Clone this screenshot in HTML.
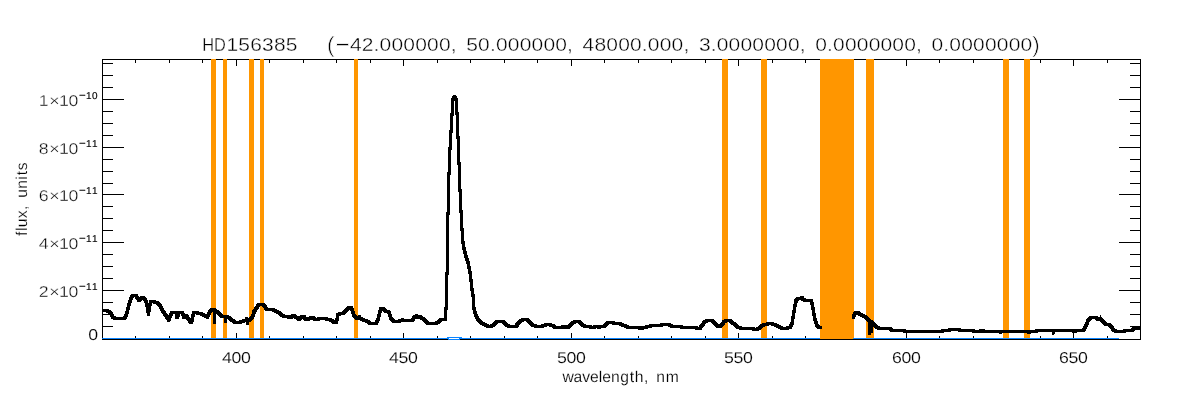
<!DOCTYPE html>
<html lang="en"><head><meta charset="utf-8"><title>HD156385</title>
<style>
html,body{margin:0;padding:0;background:#fff;overflow:hidden}
body{width:1200px;height:400px}
svg{display:block;position:absolute;left:0;top:0}
text{white-space:pre}
</style></head><body>
<svg width="1200" height="400" viewBox="0 0 1200 400">
<rect width="1200" height="400" fill="#fff"/>
<g shape-rendering="crispEdges" fill="#000"><rect x="102" y="59" width="1039" height="1"/><rect x="102" y="339" width="1039" height="1"/><rect x="102" y="59" width="1" height="281"/><rect x="1140" y="59" width="1" height="281"/><rect x="135" y="60" width="1" height="3"/><rect x="135" y="336" width="1" height="3"/><rect x="169" y="60" width="1" height="3"/><rect x="169" y="336" width="1" height="3"/><rect x="202" y="60" width="1" height="3"/><rect x="202" y="336" width="1" height="3"/><rect x="236" y="60" width="1" height="6"/><rect x="236" y="333" width="1" height="6"/><rect x="269" y="60" width="1" height="3"/><rect x="269" y="336" width="1" height="3"/><rect x="303" y="60" width="1" height="3"/><rect x="303" y="336" width="1" height="3"/><rect x="336" y="60" width="1" height="3"/><rect x="336" y="336" width="1" height="3"/><rect x="370" y="60" width="1" height="3"/><rect x="370" y="336" width="1" height="3"/><rect x="403" y="60" width="1" height="6"/><rect x="403" y="333" width="1" height="6"/><rect x="437" y="60" width="1" height="3"/><rect x="437" y="336" width="1" height="3"/><rect x="470" y="60" width="1" height="3"/><rect x="470" y="336" width="1" height="3"/><rect x="504" y="60" width="1" height="3"/><rect x="504" y="336" width="1" height="3"/><rect x="537" y="60" width="1" height="3"/><rect x="537" y="336" width="1" height="3"/><rect x="571" y="60" width="1" height="6"/><rect x="571" y="333" width="1" height="6"/><rect x="604" y="60" width="1" height="3"/><rect x="604" y="336" width="1" height="3"/><rect x="638" y="60" width="1" height="3"/><rect x="638" y="336" width="1" height="3"/><rect x="671" y="60" width="1" height="3"/><rect x="671" y="336" width="1" height="3"/><rect x="705" y="60" width="1" height="3"/><rect x="705" y="336" width="1" height="3"/><rect x="738" y="60" width="1" height="6"/><rect x="738" y="333" width="1" height="6"/><rect x="772" y="60" width="1" height="3"/><rect x="772" y="336" width="1" height="3"/><rect x="805" y="60" width="1" height="3"/><rect x="805" y="336" width="1" height="3"/><rect x="839" y="60" width="1" height="3"/><rect x="839" y="336" width="1" height="3"/><rect x="872" y="60" width="1" height="3"/><rect x="872" y="336" width="1" height="3"/><rect x="906" y="60" width="1" height="6"/><rect x="906" y="333" width="1" height="6"/><rect x="939" y="60" width="1" height="3"/><rect x="939" y="336" width="1" height="3"/><rect x="973" y="60" width="1" height="3"/><rect x="973" y="336" width="1" height="3"/><rect x="1006" y="60" width="1" height="3"/><rect x="1006" y="336" width="1" height="3"/><rect x="1040" y="60" width="1" height="3"/><rect x="1040" y="336" width="1" height="3"/><rect x="1073" y="60" width="1" height="6"/><rect x="1073" y="333" width="1" height="6"/><rect x="1107" y="60" width="1" height="3"/><rect x="1107" y="336" width="1" height="3"/><rect x="103" y="326" width="10" height="1"/><rect x="1130" y="326" width="10" height="1"/><rect x="103" y="314" width="10" height="1"/><rect x="1130" y="314" width="10" height="1"/><rect x="103" y="302" width="10" height="1"/><rect x="1130" y="302" width="10" height="1"/><rect x="103" y="290" width="21" height="1"/><rect x="1119" y="290" width="21" height="1"/><rect x="103" y="278" width="10" height="1"/><rect x="1130" y="278" width="10" height="1"/><rect x="103" y="266" width="10" height="1"/><rect x="1130" y="266" width="10" height="1"/><rect x="103" y="254" width="10" height="1"/><rect x="1130" y="254" width="10" height="1"/><rect x="103" y="242" width="21" height="1"/><rect x="1119" y="242" width="21" height="1"/><rect x="103" y="230" width="10" height="1"/><rect x="1130" y="230" width="10" height="1"/><rect x="103" y="218" width="10" height="1"/><rect x="1130" y="218" width="10" height="1"/><rect x="103" y="206" width="10" height="1"/><rect x="1130" y="206" width="10" height="1"/><rect x="103" y="194" width="21" height="1"/><rect x="1119" y="194" width="21" height="1"/><rect x="103" y="183" width="10" height="1"/><rect x="1130" y="183" width="10" height="1"/><rect x="103" y="171" width="10" height="1"/><rect x="1130" y="171" width="10" height="1"/><rect x="103" y="159" width="10" height="1"/><rect x="1130" y="159" width="10" height="1"/><rect x="103" y="147" width="21" height="1"/><rect x="1119" y="147" width="21" height="1"/><rect x="103" y="135" width="10" height="1"/><rect x="1130" y="135" width="10" height="1"/><rect x="103" y="123" width="10" height="1"/><rect x="1130" y="123" width="10" height="1"/><rect x="103" y="111" width="10" height="1"/><rect x="1130" y="111" width="10" height="1"/><rect x="103" y="99" width="21" height="1"/><rect x="1119" y="99" width="21" height="1"/><rect x="103" y="87" width="10" height="1"/><rect x="1130" y="87" width="10" height="1"/><rect x="103" y="75" width="10" height="1"/><rect x="1130" y="75" width="10" height="1"/><rect x="103" y="63" width="10" height="1"/><rect x="1130" y="63" width="10" height="1"/></g>
<g shape-rendering="crispEdges" fill="#ff9600"><rect x="211" y="59" width="5" height="279"/><rect x="223" y="59" width="4" height="279"/><rect x="249" y="59" width="5" height="279"/><rect x="260" y="59" width="4" height="279"/><rect x="354" y="59" width="4" height="279"/><rect x="722" y="59" width="6" height="279"/><rect x="761" y="59" width="6" height="279"/><rect x="820" y="59" width="34" height="280"/><rect x="866" y="59" width="8" height="279"/><rect x="1003" y="59" width="6" height="279"/><rect x="1024" y="59" width="6" height="279"/></g>
<g shape-rendering="crispEdges" fill="#0a84ff">
<rect x="102" y="338" width="718" height="1"/>
<rect x="853" y="338" width="266" height="1"/>
<rect x="447" y="337" width="15" height="1"/><rect x="448" y="339" width="12" height="1"/>
</g>
<rect x="449" y="338" width="10" height="1" fill="#fff" shape-rendering="crispEdges"/>
<clipPath id="pc"><rect x="103" y="60" width="1037" height="279"/></clipPath>
<g shape-rendering="crispEdges" clip-path="url(#pc)">
<path d="M100.5,309.1 107.5,309.1 107.5,312.1 100.5,312.1zM104.5,309.1 107.5,309.1 109.5,309.9 109.5,312.9 106.5,312.9 104.5,312.1zM106.5,309.9 109.5,309.9 111.5,311 111.5,314 108.5,314 106.5,312.9zM108.5,311 111.5,311 113,313 113,316 110,316 108.5,314zM110,313 113,313 114.5,315.5 114.5,318.5 111.5,318.5 110,316zM111.5,315.5 114.5,315.5 116,317 116,320 113,320 111.5,318.5zM113,317 125,317 125,320 113,320zM122,317 123.7,315.5 126.7,315.5 126.7,318.5 125,320 122,320zM123.7,315.5 124.7,313.5 127.7,313.5 127.7,316.5 126.7,318.5 123.7,318.5zM124.7,313.5 125.7,310 128.7,310 128.7,313 127.7,316.5 124.7,316.5zM125.7,310 126.7,306.5 129.7,306.5 129.7,309.5 128.7,313 125.7,313zM126.7,306.5 127.7,302.5 130.7,302.5 130.7,305.5 129.7,309.5 126.7,309.5zM127.7,302.5 128.7,299 131.7,299 131.7,302 130.7,305.5 127.7,305.5zM128.7,299 129.8,296 132.8,296 132.8,299 131.7,302 128.7,302zM129.8,296 131.5,294.1 134.5,294.1 134.5,297.1 132.8,299 129.8,299zM131.5,294.1 137.5,294.1 137.5,297.1 131.5,297.1zM134.5,294.1 137.5,294.1 139,296.3 139,299.3 136,299.3 134.5,297.1zM136,296.3 139,296.3 140.5,298.9 140.5,301.9 137.5,301.9 136,299.3zM137.5,298.9 139,297.3 142,297.3 142,300.3 140.5,301.9 137.5,301.9zM139,297.3 140.5,296.1 143.5,296.1 143.5,299.1 142,300.3 139,300.3zM140.5,296.1 145,296.1 145,299.1 140.5,299.1zM142,296.1 145,296.1 146.7,298 146.7,301 143.7,301 142,299.1zM143.7,298 146.7,298 148,300.5 148,303.5 145,303.5 143.7,301zM145,300.5 148,300.5 148.8,305.5 148.8,308.5 145.8,308.5 145,303.5zM145.8,305.5 148.8,305.5 150,312.9 150,315.9 147,315.9 145.8,308.5zM147,312.9 148,305.5 151,305.5 151,308.5 150,315.9 147,315.9zM148,305.5 149,300.5 152,300.5 152,303.5 151,308.5 148,308.5zM149,300.5 150.5,300.1 153.5,300.1 153.5,303.1 152,303.5 149,303.5zM150.5,300.1 153.5,300.1 156.5,300.5 156.5,303.5 153.5,303.5 150.5,303.1zM153.5,300.5 156.5,300.5 158.5,301.3 158.5,304.3 155.5,304.3 153.5,303.5zM155.5,301.3 158.5,301.3 160,302.1 160,305.1 157,305.1 155.5,304.3zM157,302.1 160,302.1 161.5,304 161.5,307 158.5,307 157,305.1zM158.5,304 161.5,304 163,307 163,310 160,310 158.5,307zM160,307 163,307 166,312 166,315 163,315 160,310zM163,312 166,312 170.3,318.7 170.3,321.7 167.3,321.7 163,315zM167.3,318.7 169,313.5 172,313.5 172,316.5 170.3,321.7 167.3,321.7zM169,313.5 170.5,311 173.5,311 173.5,314 172,316.5 169,316.5zM170.5,311 177.5,311 177.5,314 170.5,314zM174.5,311 177.5,311 178.5,315.8 178.5,318.8 175.5,318.8 174.5,314zM175.5,315.8 177.5,311.3 180.5,311.3 180.5,314.3 178.5,318.8 175.5,318.8zM177.5,311.3 184,311.3 184,314.3 177.5,314.3zM181,311.3 184,311.3 185.5,316 185.5,319 182.5,319 181,314.3zM182.5,316 184.5,313.5 187.5,313.5 187.5,316.5 185.5,319 182.5,319zM184.5,313.5 187.5,313.5 189.5,316.5 189.5,319.5 186.5,319.5 184.5,316.5zM186.5,316.5 189.5,316.5 192,321.1 192,324.1 189,324.1 186.5,319.5zM189,321.1 193,321.1 193,324.1 189,324.1zM190,321.1 192,311.5 195,311.5 195,314.5 193,324.1 190,324.1zM192,311.5 195.5,311.3 198.5,311.3 198.5,314.3 195,314.5 192,314.5zM195.5,311.3 198.5,311.3 201.5,312 201.5,315 198.5,315 195.5,314.3zM198.5,312 201.5,312 205.5,313.5 205.5,316.5 202.5,316.5 198.5,315zM202.5,313.5 205.5,313.5 209,315.5 209,318.5 206,318.5 202.5,316.5zM206,315.5 207,313 210,313 210,316 209,318.5 206,318.5zM207,313 208,310.5 211,310.5 211,313.5 210,316 207,316zM208,310.5 209.5,308.7 212.5,308.7 212.5,311.7 211,313.5 208,313.5zM209.5,308.7 211,308.2 214,308.2 214,311.2 212.5,311.7 209.5,311.7zM211,308.2 214,308.2 216,308.4 216,311.4 213,311.4 211,311.2zM213,308.4 216,308.4 216,324 213,324zM213,308.5 216,308.5 216,324 213,324zM213,308.5 216,308.5 217.5,309.7 217.5,312.7 214.5,312.7 213,311.5zM214.5,309.7 217.5,309.7 220.5,312 220.5,315 217.5,315 214.5,312.7zM217.5,312 220.5,312 223.5,314.5 223.5,317.5 220.5,317.5 217.5,315zM220.5,314.5 223.5,314.5 227,314.7 227,317.7 224,317.7 220.5,317.5zM224,314.7 227,314.7 227,322.5 224,322.5zM224,314.7 227,314.7 227,322.5 224,322.5zM224,314.7 227,314.7 228,314.9 228,317.9 225,317.9 224,317.7zM225,314.9 228,314.9 230.5,316 230.5,319 227.5,319 225,317.9zM227.5,316 230.5,316 233.5,318.5 233.5,321.5 230.5,321.5 227.5,319zM230.5,318.5 233.5,318.5 236,320.9 236,323.9 233,323.9 230.5,321.5zM233,320.9 236,320.9 241,321.1 241,324.1 238,324.1 233,323.9zM238,321.1 240,320 243,320 243,323 241,324.1 238,324.1zM240,320 242.5,319.3 245.5,319.3 245.5,322.3 243,323 240,323zM242.5,319.3 244.5,319 247.5,319 247.5,322 245.5,322.3 242.5,322.3zM244.5,319 245,317.1 248,317.1 248,320.1 247.5,322 244.5,322zM245,317.1 248,317.1 248.5,319 248.5,322 245.5,322 245,320.1zM245.5,319 248.5,319 249,321.7 249,324.7 246,324.7 245.5,322zM246,321.7 246.5,319 249.5,319 249.5,322 249,324.7 246,324.7zM246.5,319 248.5,318 251.5,318 251.5,321 249.5,322 246.5,322zM248.5,318 251,315.5 254,315.5 254,318.5 251.5,321 248.5,321zM251,315.5 252.5,310.5 255.5,310.5 255.5,313.5 254,318.5 251,318.5zM252.5,310.5 254.5,307 257.5,307 257.5,310 255.5,313.5 252.5,313.5zM254.5,307 257,303.4 260,303.4 260,306.4 257.5,310 254.5,310zM257,303.4 258.5,303 261.5,303 261.5,306 260,306.4 257,306.4zM258.5,303 261.5,303 264.5,303.1 264.5,306.1 261.5,306.1 258.5,306zM261.5,303.1 264.5,303.1 267,306 267,309 264,309 261.5,306.1zM264,306 267,306 268.5,308.3 268.5,311.3 265.5,311.3 264,309zM265.5,308.3 271.5,308.3 271.5,311.3 265.5,311.3zM268.5,308.3 271.5,308.2 274.5,308.2 274.5,311.2 271.5,311.3 268.5,311.3zM271.5,308.2 274.5,308.2 277.5,309.5 277.5,312.5 274.5,312.5 271.5,311.2zM274.5,309.5 277.5,309.5 280.5,311.5 280.5,314.5 277.5,314.5 274.5,312.5zM277.5,311.5 280.5,311.5 283.5,314 283.5,317 280.5,317 277.5,314.5zM280.5,314 283.5,314 285.5,315 285.5,318 282.5,318 280.5,317zM282.5,315 289.5,315 289.5,318 282.5,318zM286.5,315 289.5,315 290.5,315.9 290.5,318.9 287.5,318.9 286.5,318zM287.5,315.9 293,315.9 293,318.9 287.5,318.9zM290,315.9 291,314 294,314 294,317 293,318.9 290,318.9zM291,314 296,314 296,317 291,317zM293,314 296,314 297.5,316 297.5,319 294.5,319 293,317zM294.5,316 297.5,316 299.5,317 299.5,320 296.5,320 294.5,319zM296.5,317 299.5,317 301,317.9 301,320.9 298,320.9 296.5,320zM298,317.9 299.5,315.9 302.5,315.9 302.5,318.9 301,320.9 298,320.9zM299.5,315.9 301,315 304,315 304,318 302.5,318.9 299.5,318.9zM301,315 304,315 305.5,315.5 305.5,318.5 302.5,318.5 301,318zM302.5,315.5 305.5,315.5 307,317.9 307,320.9 304,320.9 302.5,318.5zM304,317.9 309.5,317.9 309.5,320.9 304,320.9zM306.5,317.9 308,317 311,317 311,320 309.5,320.9 306.5,320.9zM308,317 309,316 312,316 312,319 311,320 308,320zM309,316 314,316 314,319 309,319zM311,316 314,316 315.5,317 315.5,320 312.5,320 311,319zM312.5,317 315.5,317 316.5,317.9 316.5,320.9 313.5,320.9 312.5,320zM313.5,317.9 315,317.7 318,317.7 318,320.7 316.5,320.9 313.5,320.9zM315,317.7 318.5,317.3 321.5,317.3 321.5,320.3 318,320.7 315,320.7zM318.5,317.3 326.5,317.3 326.5,320.3 318.5,320.3zM323.5,317.3 326.5,317.3 331.5,318.3 331.5,321.3 328.5,321.3 323.5,320.3zM328.5,318.3 331.5,318.3 334,319.5 334,322.5 331,322.5 328.5,321.3zM331,319.5 334,319.5 335.5,321 335.5,324 332.5,324 331,322.5zM332.5,321 337.5,321 337.5,324 332.5,324zM334.5,321 335.5,317.5 338.5,317.5 338.5,320.5 337.5,324 334.5,324zM335.5,317.5 336.2,313.5 339.2,313.5 339.2,316.5 338.5,320.5 335.5,320.5zM336.2,313.5 338.5,312 341.5,312 341.5,315 339.2,316.5 336.2,316.5zM338.5,312 342,311.5 345,311.5 345,314.5 341.5,315 338.5,315zM342,311.5 345.3,308.5 348.3,308.5 348.3,311.5 345,314.5 342,314.5zM345.3,308.5 347.3,306.1 350.3,306.1 350.3,309.1 348.3,311.5 345.3,311.5zM347.3,306.1 350.3,306.1 352.5,306.3 352.5,309.3 349.5,309.3 347.3,309.1zM349.5,306.3 352.5,306.3 354.5,310.5 354.5,313.5 351.5,313.5 349.5,309.3zM351.5,310.5 354.5,310.5 356,315 356,318 353,318 351.5,313.5zM353,315 356,315 358.5,316.5 358.5,319.5 355.5,319.5 353,318zM355.5,316.5 358.5,316.5 360.1,316.8 360.1,319.8 357.1,319.8 355.5,319.5zM357.1,316.8 357.8,315.1 360.8,315.1 360.8,318.1 360.1,319.8 357.1,319.8zM357.8,315.1 360.8,315.1 361.5,316.9 361.5,319.9 358.5,319.9 357.8,318.1zM358.5,316.9 361.5,316.9 365.5,318.5 365.5,321.5 362.5,321.5 358.5,319.9zM362.5,318.5 365.5,318.5 369,320 369,323 366,323 362.5,321.5zM366,320 369,320 372,321.8 372,324.8 369,324.8 366,323zM369,321.8 377.5,321.8 377.5,324.8 369,324.8zM374.5,321.8 376.2,319.5 379.2,319.5 379.2,322.5 377.5,324.8 374.5,324.8zM376.2,319.5 377.2,315.5 380.2,315.5 380.2,318.5 379.2,322.5 376.2,322.5zM377.2,315.5 378.2,310.5 381.2,310.5 381.2,313.5 380.2,318.5 377.2,318.5zM378.2,310.5 379.5,307 382.5,307 382.5,310 381.2,313.5 378.2,313.5zM379.5,307 385,307 385,310 379.5,310zM382,307 385,307 386.5,309 386.5,312 383.5,312 382,310zM383.5,309 386.5,309 387.5,310 387.5,313 384.5,313 383.5,312zM384.5,310 387.5,310 390,310.1 390,313.1 387,313.1 384.5,313zM387,310.1 390,310.1 391,312.5 391,315.5 388,315.5 387,313.1zM388,312.5 391,312.5 392.2,316.5 392.2,319.5 389.2,319.5 388,315.5zM389.2,316.5 392.2,316.5 394,319 394,322 391,322 389.2,319.5zM391,319 394,319 396,319.7 396,322.7 393,322.7 391,322zM393,319.7 396,319.7 400,319.9 400,322.9 397,322.9 393,322.7zM397,319.9 399,318.9 402,318.9 402,321.9 400,322.9 397,322.9zM399,318.9 401,318.4 404,318.4 404,321.4 402,321.9 399,321.9zM401,318.4 404,318.4 406.5,319 406.5,322 403.5,322 401,321.4zM403.5,319 413,319 413,322 403.5,322zM410,319 412,317 415,317 415,320 413,322 410,322zM412,317 414,314.8 417,314.8 417,317.8 415,320 412,320zM414,314.8 415,314.3 418,314.3 418,317.3 417,317.8 414,317.8zM415,314.3 418,314.3 418.8,316 418.8,319 415.8,319 415,317.3zM415.8,316 417,315 420,315 420,318 418.8,319 415.8,319zM417,315 420,315 421.5,315.5 421.5,318.5 418.5,318.5 417,318zM418.5,315.5 421.5,315.5 424.5,317.5 424.5,320.5 421.5,320.5 418.5,318.5zM421.5,317.5 424.5,317.5 427.5,320.5 427.5,323.5 424.5,323.5 421.5,320.5zM424.5,320.5 427.5,320.5 429.5,321.7 429.5,324.7 426.5,324.7 424.5,323.5zM426.5,321.7 437.5,321.7 437.5,324.7 426.5,324.7zM434.5,321.7 437,320.3 440,320.3 440,323.3 437.5,324.7 434.5,324.7zM437,320.3 439,318.5 442,318.5 442,321.5 440,323.3 437,323.3zM439,318.5 442.5,318.3 445.5,318.3 445.5,321.3 442,321.5 439,321.5zM442.5,318.3 447,318.3 447,321.3 442.5,321.3zM444,307 447,307 447,321.3 444,321.3zM444,307 445,306 448,306 448,309 447,310 444,310zM445,272 448,272 448,309 445,309zM445,272 446,271 449,271 449,274 448,275 445,275zM446,212.5 449,212.5 449,274 446,274zM446,212.5 447,211.5 450,211.5 450,214.5 449,215.5 446,215.5zM447,172.5 450,172.5 450,214.5 447,214.5zM447,172.5 448,171.5 451,171.5 451,174.5 450,175.5 447,175.5zM448,147.5 451,147.5 451,174.5 448,174.5zM448,147.5 449,146.5 452,146.5 452,149.5 451,150.5 448,150.5zM449,130 452,130 452,149.5 449,149.5zM449,130 450,129 453,129 453,132 452,133 449,133zM450,113 453,113 453,132 450,132zM450,113 451,112 454,112 454,115 453,116 450,116zM451,99.5 454,99.5 454,115 451,115zM451,99.5 453,95 456,95 456,98 454,102.5 451,102.5zM453,95 456,95 458,99.5 458,102.5 455,102.5 453,98zM455,99.5 458,99.5 458,115 455,115zM455,112 458,112 459,113 459,116 456,116 455,115zM456,113 459,113 459,138.5 456,138.5zM456,135.5 459,135.5 460,136.5 460,139.5 457,139.5 456,138.5zM457,136.5 460,136.5 460,165 457,165zM457,162 460,162 461,163 461,166 458,166 457,165zM458,163 461,163 461,191.5 458,191.5zM458,188.5 461,188.5 462,189.5 462,192.5 459,192.5 458,191.5zM459,189.5 462,189.5 462,212.5 459,212.5zM459,209.5 462,209.5 463,210.5 463,213.5 460,213.5 459,212.5zM460,210.5 463,210.5 463,230.5 460,230.5zM460,227.5 463,227.5 464,228.5 464,231.5 461,231.5 460,230.5zM461,228.5 464,228.5 464,241.5 461,241.5zM461,238.5 464,238.5 464.7,242.5 464.7,245.5 461.7,245.5 461,241.5zM461.7,242.5 464.7,242.5 466,249.5 466,252.5 463,252.5 461.7,245.5zM463,249.5 466,249.5 467.5,255.5 467.5,258.5 464.5,258.5 463,252.5zM464.5,255.5 467.5,255.5 469.5,261 469.5,264 466.5,264 464.5,258.5zM466.5,261 469.5,261 470.7,266.5 470.7,269.5 467.7,269.5 466.5,264zM467.7,266.5 470.7,266.5 471.7,272.5 471.7,275.5 468.7,275.5 467.7,269.5zM468.7,272.5 471.7,272.5 472.7,280 472.7,283 469.7,283 468.7,275.5zM469.7,280 472.7,280 473.7,289.5 473.7,292.5 470.7,292.5 469.7,283zM470.7,289.5 473.7,289.5 475,297.5 475,300.5 472,300.5 470.7,292.5zM472,297.5 475,297.5 475.5,306.5 475.5,309.5 472.5,309.5 472,300.5zM472.5,306.5 475.5,306.5 476.7,311.5 476.7,314.5 473.7,314.5 472.5,309.5zM473.7,311.5 476.7,311.5 478,315.5 478,318.5 475,318.5 473.7,314.5zM475,315.5 478,315.5 480.5,319 480.5,322 477.5,322 475,318.5zM477.5,319 480.5,319 483.5,321.5 483.5,324.5 480.5,324.5 477.5,322zM480.5,321.5 483.5,321.5 487,323.5 487,326.5 484,326.5 480.5,324.5zM484,323.5 487,323.5 490,325 490,328 487,328 484,326.5zM487,325 492.5,325 492.5,328 487,328zM489.5,325 491.5,323.5 494.5,323.5 494.5,326.5 492.5,328 489.5,328zM491.5,323.5 494,321 497,321 497,324 494.5,326.5 491.5,326.5zM494,321 496.5,320 499.5,320 499.5,323 497,324 494,324zM496.5,320 503.5,320 503.5,323 496.5,323zM500.5,320 503.5,320 505.5,321 505.5,324 502.5,324 500.5,323zM502.5,321 505.5,321 508,323.5 508,326.5 505,326.5 502.5,324zM505,323.5 508,323.5 510.5,325 510.5,328 507.5,328 505,326.5zM507.5,325 517,325 517,328 507.5,328zM514,325 515.5,323.5 518.5,323.5 518.5,326.5 517,328 514,328zM515.5,323.5 517.5,320.5 520.5,320.5 520.5,323.5 518.5,326.5 515.5,326.5zM517.5,320.5 520.5,318.5 523.5,318.5 523.5,321.5 520.5,323.5 517.5,323.5zM520.5,318.5 523,318 526,318 526,321 523.5,321.5 520.5,321.5zM523,318 526,318 528.5,318.5 528.5,321.5 525.5,321.5 523,321zM525.5,318.5 528.5,318.5 531.5,321.5 531.5,324.5 528.5,324.5 525.5,321.5zM528.5,321.5 531.5,321.5 534.5,324.3 534.5,327.3 531.5,327.3 528.5,324.5zM531.5,324.3 534.5,324.3 538.5,324.7 538.5,327.7 535.5,327.7 531.5,327.3zM535.5,324.7 540.5,324.5 543.5,324.5 543.5,327.5 538.5,327.7 535.5,327.7zM540.5,324.5 543.5,323.5 546.5,323.5 546.5,326.5 543.5,327.5 540.5,327.5zM543.5,323.5 547,323 550,323 550,326 546.5,326.5 543.5,326.5zM547,323 550,323 554.5,324.2 554.5,327.2 551.5,327.2 547,326zM551.5,324.2 554.5,324.2 556.5,325.5 556.5,328.5 553.5,328.5 551.5,327.2zM553.5,325.5 556.5,325.5 558,326 558,329 555,329 553.5,328.5zM555,326 563,326 563,329 555,329zM560,326 561,325 564,325 564,328 563,329 560,329zM561,325 564,325 565,326 565,329 562,329 561,328zM562,326 563,325 566,325 566,328 565,329 562,329zM563,325 566,325 567,326 567,329 564,329 563,328zM564,326 569.5,326 569.5,329 564,329zM566.5,326 568.5,324 571.5,324 571.5,327 569.5,329 566.5,329zM568.5,324 571,321.5 574,321.5 574,324.5 571.5,327 568.5,327zM571,321.5 573.5,320 576.5,320 576.5,323 574,324.5 571,324.5zM573.5,320 580.5,320 580.5,323 573.5,323zM577.5,320 580.5,320 582.5,322 582.5,325 579.5,325 577.5,323zM579.5,322 582.5,322 584.5,324 584.5,327 581.5,327 579.5,325zM581.5,324 584.5,324 586.5,325 586.5,328 583.5,328 581.5,327zM583.5,325 591.5,325 591.5,328 583.5,328zM588.5,325 591.5,325 593,326 593,329 590,329 588.5,328zM590,326 595,326 595,329 590,329zM592,326 593.5,325 596.5,325 596.5,328 595,329 592,329zM593.5,325 599,325 599,328 593.5,328zM596,325 599,325 600,326 600,329 597,329 596,328zM597,326 598.5,325 601.5,325 601.5,328 600,329 597,329zM598.5,325 605,325 605,328 598.5,328zM602,325 604,323 607,323 607,326 605,328 602,328zM604,323 606,321.1 609,321.1 609,324.1 607,326 604,326zM606,321.1 609,321.1 613.5,321.3 613.5,324.3 610.5,324.3 606,324.1zM610.5,321.3 613.5,321.3 617.5,322 617.5,325 614.5,325 610.5,324.3zM614.5,322 617.5,322 621.5,322.3 621.5,325.3 618.5,325.3 614.5,325zM618.5,322.3 621.5,322.3 625.5,324 625.5,327 622.5,327 618.5,325.3zM622.5,324 625.5,324 629.5,325.5 629.5,328.5 626.5,328.5 622.5,327zM626.5,325.5 634.5,325.5 634.5,328.5 626.5,328.5zM631.5,325.5 634.5,325.5 638.5,326.3 638.5,329.3 635.5,329.3 631.5,328.5zM635.5,326.3 638.5,326.3 642.5,326.7 642.5,329.7 639.5,329.7 635.5,329.3zM639.5,326.7 643.5,326.3 646.5,326.3 646.5,329.3 642.5,329.7 639.5,329.7zM643.5,326.3 646.5,325 649.5,325 649.5,328 646.5,329.3 643.5,329.3zM646.5,325 651.5,324 654.5,324 654.5,327 649.5,328 646.5,328zM651.5,324 658.5,323.7 661.5,323.7 661.5,326.7 654.5,327 651.5,327zM658.5,323.7 662.5,323 665.5,323 665.5,326 661.5,326.7 658.5,326.7zM662.5,323 670.5,323 670.5,326 662.5,326zM667.5,323 670.5,323 673.5,324.7 673.5,327.7 670.5,327.7 667.5,326zM670.5,324.7 673.5,324.7 681.5,325 681.5,328 678.5,328 670.5,327.7zM678.5,325 681.5,325 684.5,326 684.5,329 681.5,329 678.5,328zM681.5,326 697,326 697,329 681.5,329zM694,326 697,326 698.5,327 698.5,330 695.5,330 694,329zM695.5,327 701.5,327 701.5,330 695.5,330zM698.5,327 700.5,324 703.5,324 703.5,327 701.5,330 698.5,330zM700.5,324 703,320.3 706,320.3 706,323.3 703.5,327 700.5,327zM703,320.3 705.5,319 708.5,319 708.5,322 706,323.3 703,323.3zM705.5,319 713.5,319 713.5,322 705.5,322zM710.5,319 713.5,319 716.5,322 716.5,325 713.5,325 710.5,322zM713.5,322 716.5,322 719.5,325 719.5,328 716.5,328 713.5,325zM716.5,325 722,325 722,328 716.5,328zM719,325 722.5,320.3 725.5,320.3 725.5,323.3 722,328 719,328zM722.5,320.3 725.5,319 728.5,319 728.5,322 725.5,323.3 722.5,323.3zM725.5,319 728.5,319 731.5,319.3 731.5,322.3 728.5,322.3 725.5,322zM728.5,319.3 731.5,319.3 734.5,321.5 734.5,324.5 731.5,324.5 728.5,322.3zM731.5,321.5 734.5,321.5 736.5,323.5 736.5,326.5 733.5,326.5 731.5,324.5zM733.5,323.5 736.5,323.5 739.5,326 739.5,329 736.5,329 733.5,326.5zM736.5,326 739.5,326 744.5,327 744.5,330 741.5,330 736.5,329zM741.5,327 754,327 754,330 741.5,330zM751,327 754,327 755.5,328 755.5,331 752.5,331 751,330zM752.5,328 758.5,328 758.5,331 752.5,331zM755.5,328 757,327 760,327 760,330 758.5,331 755.5,331zM757,327 759.5,325 762.5,325 762.5,328 760,330 757,330zM759.5,325 762.5,323 765.5,323 765.5,326 762.5,328 759.5,328zM762.5,323 767.5,322.3 770.5,322.3 770.5,325.3 765.5,326 762.5,326zM767.5,322.3 770.5,322.3 774.5,322.5 774.5,325.5 771.5,325.5 767.5,325.3zM771.5,322.5 774.5,322.5 778.5,324.5 778.5,327.5 775.5,327.5 771.5,325.5zM775.5,324.5 778.5,324.5 782.5,326.5 782.5,329.5 779.5,329.5 775.5,327.5zM779.5,326.5 782.5,326.5 787.5,327 787.5,330 784.5,330 779.5,329.5zM784.5,327 788.5,325.5 791.5,325.5 791.5,328.5 787.5,330 784.5,330zM788.5,325.5 790.5,321.5 793.5,321.5 793.5,324.5 791.5,328.5 788.5,328.5zM790.5,321.5 792,313.5 795,313.5 795,316.5 793.5,324.5 790.5,324.5zM792,313.5 793.3,305.5 796.3,305.5 796.3,308.5 795,316.5 792,316.5zM793.3,305.5 794.5,299.5 797.5,299.5 797.5,302.5 796.3,308.5 793.3,308.5zM794.5,299.5 796.5,297 799.5,297 799.5,300 797.5,302.5 794.5,302.5zM796.5,297 799.5,297 803,297.1 803,300.1 800,300.1 796.5,300zM800,297.1 801,295.9 804,295.9 804,298.9 803,300.1 800,300.1zM801,295.9 804,295.9 804.7,298.3 804.7,301.3 801.7,301.3 801,298.9zM801.7,298.3 804.7,298.3 806.5,298.7 806.5,301.7 803.5,301.7 801.7,301.3zM803.5,298.7 806.5,298.5 809.5,298.5 809.5,301.5 806.5,301.7 803.5,301.7zM806.5,298.5 809.5,298.5 812.5,299.5 812.5,302.5 809.5,302.5 806.5,301.5zM809.5,299.5 812.5,299.5 814,303.5 814,306.5 811,306.5 809.5,302.5zM811,303.5 814,303.5 815,310.5 815,313.5 812,313.5 811,306.5zM812,310.5 815,310.5 816.5,318.5 816.5,321.5 813.5,321.5 812,313.5zM813.5,318.5 816.5,318.5 818.5,324 818.5,327 815.5,327 813.5,321.5zM815.5,324 818.5,324 821,326 821,329 818,329 815.5,327zM818,326 821,326 822,326.3 822,329.3 819,329.3 818,329z" fill="#000"/>
<path d="M852,316 852.8,313.5 855.8,313.5 855.8,316.5 855,319 852,319zM852.8,313.5 854,311.5 857,311.5 857,314.5 855.8,316.5 852.8,316.5zM854,311.5 856,311.1 859,311.1 859,314.1 857,314.5 854,314.5zM856,311.1 859,311.1 861.5,312.5 861.5,315.5 858.5,315.5 856,314.1zM858.5,312.5 861.5,312.5 864.5,314.5 864.5,317.5 861.5,317.5 858.5,315.5zM861.5,314.5 864.5,314.5 867.5,316 867.5,319 864.5,319 861.5,317.5zM864.5,316 867.5,316 870,318.5 870,321.5 867,321.5 864.5,319zM867,318.5 870,318.5 871,319.5 871,322.5 868,322.5 867,321.5zM868,319.5 871,319.5 871,335 868,335zM868,319.5 871,319.5 871,335 868,335zM868,319.5 871,319.5 873,320.5 873,323.5 870,323.5 868,322.5zM870,320.5 873,320.5 873,333 870,333zM870,321 873,321 873,333 870,333zM870,321 873,321 875.5,322.5 875.5,325.5 872.5,325.5 870,324zM872.5,322.5 875.5,322.5 877.5,325 877.5,328 874.5,328 872.5,325.5zM874.5,325 877.5,325 880.5,327 880.5,330 877.5,330 874.5,328zM877.5,327 891,327 891,330 877.5,330zM888,327 891,327 893,329 893,332 890,332 888,330zM890,329 905.5,329 905.5,332 890,332zM902.5,329 905.5,329 906.5,330 906.5,333 903.5,333 902.5,332zM903.5,330 943.5,330 943.5,333 903.5,333zM940.5,330 941.5,329 944.5,329 944.5,332 943.5,333 940.5,333zM941.5,329 950.5,329 950.5,332 941.5,332zM947.5,329 948.5,328 951.5,328 951.5,331 950.5,332 947.5,332zM948.5,328 960.5,328 960.5,331 948.5,331zM957.5,328 960.5,328 961.5,329 961.5,332 958.5,332 957.5,331zM958.5,329 974.5,329 974.5,332 958.5,332zM971.5,329 974.5,329 975.5,330 975.5,333 972.5,333 971.5,332zM972.5,330 981.5,330 981.5,333 972.5,333zM978.5,330 979,329 982,329 982,332 981.5,333 978.5,333zM979,329 982,329 983,330 983,333 980,333 979,332zM980,330 981,329 984,329 984,332 983,333 980,333zM981,329 985,329 985,332 981,332zM982,329 985,329 985.7,330 985.7,333 982.7,333 982,332zM982.7,330 1001.8,330 1001.8,333 982.7,333zM998.8,330 1001.8,330 1001.8,334 998.8,334zM998.8,331 1002.2,331 1002.2,334 998.8,334zM999.2,330 1002.2,330 1002.2,334 999.2,334zM999.2,330 1030,330 1030,333 999.2,333zM1027,330 1030,330 1030,334 1027,334zM1027,331 1031,331 1031,334 1027,334zM1028,330 1031,330 1031,334 1028,334zM1028,330 1037.5,330 1037.5,333 1028,333zM1034.5,330 1035.5,329 1038.5,329 1038.5,332 1037.5,333 1034.5,333zM1035.5,329 1074,329 1074,332 1035.5,332zM1071,329 1074,329 1075,330 1075,333 1072,333 1071,332zM1072,330 1076.5,330 1076.5,333 1072,333zM1073.5,330 1074.5,329 1077.5,329 1077.5,332 1076.5,333 1073.5,333zM1074.5,329 1084,329 1084,332 1074.5,332zM1081,329 1083,327 1086,327 1086,330 1084,332 1081,332zM1083,327 1085,323 1088,323 1088,326 1086,330 1083,330zM1085,323 1086.5,319 1089.5,319 1089.5,322 1088,326 1085,326zM1086.5,319 1088.5,316.8 1091.5,316.8 1091.5,319.8 1089.5,322 1086.5,322zM1088.5,316.8 1090.5,316 1093.5,316 1093.5,319 1091.5,319.8 1088.5,319.8zM1090.5,316 1098,316 1098,319 1090.5,319zM1095,316 1098,316 1099,317.8 1099,320.8 1096,320.8 1095,319zM1096,317.8 1097,316.7 1100,316.7 1100,319.7 1099,320.8 1096,320.8zM1097,316.7 1100,316.7 1101.5,317 1101.5,320 1098.5,320 1097,319.7zM1098.5,317 1101.5,317 1103,318.5 1103,321.5 1100,321.5 1098.5,320zM1100,318.5 1103,318.5 1104.5,320 1104.5,323 1101.5,323 1100,321.5zM1101.5,320 1104.5,320 1107,322.5 1107,325.5 1104,325.5 1101.5,323zM1104,322.5 1107,322.5 1110.5,323.5 1110.5,326.5 1107.5,326.5 1104,325.5zM1107.5,323.5 1110.5,323.5 1113,325.5 1113,328.5 1110,328.5 1107.5,326.5zM1110,325.5 1113,325.5 1115,328.5 1115,331.5 1112,331.5 1110,328.5zM1112,328.5 1115,328.5 1117.5,329.9 1117.5,332.9 1114.5,332.9 1112,331.5zM1114.5,329.9 1125.5,329.9 1125.5,332.9 1114.5,332.9zM1122.5,329.9 1124.5,328.9 1127.5,328.9 1127.5,331.9 1125.5,332.9 1122.5,332.9zM1124.5,328.9 1133.5,328.9 1133.5,331.9 1124.5,331.9zM1130.5,328.9 1133,327 1136,327 1136,330 1133.5,331.9 1130.5,331.9zM1133,327 1137,326.5 1140,326.5 1140,329.5 1136,330 1133,330z" fill="#000"/>
<path d="M1052,332v3h1l2,-2v-1z" fill="#000"/>
<path d="M1099,317.5l1,-2l1,-1v3.5z" fill="#000"/>
</g>
<g font-family='"Liberation Sans", sans-serif' font-weight="400" fill="#000" text-anchor="middle">
<text xml:space="preserve" transform="matrix(1.13,0,0,1,-0,0)" font-size="18.6" stroke="#fff" stroke-width="0.35"><tspan x="189.43" textLength="20.92" lengthAdjust="spacingAndGlyphs" y="51">HD</tspan><tspan x="205.58 216.08 226.59 237.09 247.6 258.1 267.56 275.96 284.36" y="51">156385   </tspan><tspan x="292.77" textLength="6.63" lengthAdjust="spacingAndGlyphs" font-size="22.5" stroke-width="0.6" y="51.6">(</tspan><tspan x="303.28" textLength="14.8" lengthAdjust="spacingAndGlyphs" y="49.6">-</tspan><tspan x="314.82 325.33 333.21 341.09 351.59 362.09 372.6 383.1 393.61 401.49 408.31 417.77 428.27 436.15 444.03 454.53 465.04 475.54 486.05 496.55 504.43 511.26 520.71 531.22 541.72 552.22 562.73 570.61 578.49 588.99 599.49 607.37 614.2 623.66 631.53 639.41 649.92 660.42 670.92 681.43 691.93 702.44 710.32 717.14 726.6 734.48 742.36 752.86 763.36 773.87 784.37 794.88 805.38 813.26 820.09 829.54 837.42 845.3 855.8 866.31 876.81 887.32 897.82 908.32" y="51">42.000000, 50.000000, 48000.000, 3.0000000, 0.0000000, 0.0000000</tspan><tspan x="916.9" textLength="6.63" lengthAdjust="spacingAndGlyphs" font-size="22.5" stroke-width="0.6" y="51.6">)</tspan></text>
<text xml:space="preserve" transform="matrix(1.13,0,0.001,1,-0.363,0)" font-size="15.7" stroke="#fff" stroke-width="0.17"><tspan x="200.89 209.29 217.7" y="363">400</tspan></text>
<text xml:space="preserve" transform="matrix(1.13,0,0.001,1,-0.363,0)" font-size="15.7" stroke="#fff" stroke-width="0.17"><tspan x="348.68 357.08 365.48" y="363">450</tspan></text>
<text xml:space="preserve" transform="matrix(1.13,0,0.001,1,-0.363,0)" font-size="15.7" stroke="#fff" stroke-width="0.17"><tspan x="497.35 505.75 514.16" y="363">500</tspan></text>
<text xml:space="preserve" transform="matrix(1.13,0,0.001,1,-0.363,0)" font-size="15.7" stroke="#fff" stroke-width="0.17"><tspan x="645.14 653.54 661.94" y="363">550</tspan></text>
<text xml:space="preserve" transform="matrix(1.13,0,0.001,1,-0.363,0)" font-size="15.7" stroke="#fff" stroke-width="0.17"><tspan x="793.81 802.21 810.62" y="363">600</tspan></text>
<text xml:space="preserve" transform="matrix(1.13,0,0.001,1,-0.363,0)" font-size="15.7" stroke="#fff" stroke-width="0.17"><tspan x="941.6 950 958.4" y="363">650</tspan></text>
<text xml:space="preserve" transform="matrix(1,0,0.001,1,-0.382,0)" font-size="15.7" stroke="#fff" stroke-width="0.17"><tspan x="568.26 577.99 586.3 594.37 600.55 606.72 615.5 624.52 631.88 639.24 646.13 652.3 660.61 672.24" y="382">wavelength, nm</tspan></text>
<g transform="translate(27,199.5) rotate(-90)"><text xml:space="preserve" transform="matrix(1,0,0.001,1,-0,0)" font-size="15.7" stroke="#fff" stroke-width="0.21"><tspan x="-34.42 -29.67 -23.27 -14.72 -8.31 -2.14 6.17 15.19 21.6 26.35 33.24" y="0">flux, units</tspan></text></g>
<text xml:space="preserve" transform="matrix(1.13,0,0.001,1,-0.106,0)" font-size="15.7" stroke="#fff" stroke-width="0.34"><tspan x="38.67 48.23 56.64 65.04" y="106">1×10</tspan><tspan x="72.83" textLength="6.48" lengthAdjust="spacingAndGlyphs" font-size="10" stroke="#000" stroke-width="0.16" y="98.2">-</tspan><tspan x="78.58" textLength="4.92" lengthAdjust="spacingAndGlyphs" font-size="10" stroke="#000" stroke-width="0.16" y="99.2">1</tspan><tspan x="83.81" textLength="4.92" lengthAdjust="spacingAndGlyphs" font-size="10" stroke="#000" stroke-width="0.16" y="99.2">0</tspan></text>
<text xml:space="preserve" transform="matrix(1.13,0,0.001,1,-0.154,0)" font-size="15.7" stroke="#fff" stroke-width="0.34"><tspan x="38.67 48.23 56.64 65.04" y="154">8×10</tspan><tspan x="72.83" textLength="6.48" lengthAdjust="spacingAndGlyphs" font-size="10" stroke="#000" stroke-width="0.16" y="146.2">-</tspan><tspan x="78.58" textLength="4.92" lengthAdjust="spacingAndGlyphs" font-size="10" stroke="#000" stroke-width="0.16" y="147.2">1</tspan><tspan x="83.81" textLength="4.92" lengthAdjust="spacingAndGlyphs" font-size="10" stroke="#000" stroke-width="0.16" y="147.2">1</tspan></text>
<text xml:space="preserve" transform="matrix(1.13,0,0.001,1,-0.201,0)" font-size="15.7" stroke="#fff" stroke-width="0.34"><tspan x="38.67 48.23 56.64 65.04" y="201">6×10</tspan><tspan x="72.83" textLength="6.48" lengthAdjust="spacingAndGlyphs" font-size="10" stroke="#000" stroke-width="0.16" y="193.2">-</tspan><tspan x="78.58" textLength="4.92" lengthAdjust="spacingAndGlyphs" font-size="10" stroke="#000" stroke-width="0.16" y="194.2">1</tspan><tspan x="83.81" textLength="4.92" lengthAdjust="spacingAndGlyphs" font-size="10" stroke="#000" stroke-width="0.16" y="194.2">1</tspan></text>
<text xml:space="preserve" transform="matrix(1.13,0,0.001,1,-0.249,0)" font-size="15.7" stroke="#fff" stroke-width="0.34"><tspan x="38.67 48.23 56.64 65.04" y="249">4×10</tspan><tspan x="72.83" textLength="6.48" lengthAdjust="spacingAndGlyphs" font-size="10" stroke="#000" stroke-width="0.16" y="241.2">-</tspan><tspan x="78.58" textLength="4.92" lengthAdjust="spacingAndGlyphs" font-size="10" stroke="#000" stroke-width="0.16" y="242.2">1</tspan><tspan x="83.81" textLength="4.92" lengthAdjust="spacingAndGlyphs" font-size="10" stroke="#000" stroke-width="0.16" y="242.2">1</tspan></text>
<text xml:space="preserve" transform="matrix(1.13,0,0.001,1,-0.297,0)" font-size="15.7" stroke="#fff" stroke-width="0.34"><tspan x="38.67 48.23 56.64 65.04" y="297">2×10</tspan><tspan x="72.83" textLength="6.48" lengthAdjust="spacingAndGlyphs" font-size="10" stroke="#000" stroke-width="0.16" y="289.2">-</tspan><tspan x="78.58" textLength="4.92" lengthAdjust="spacingAndGlyphs" font-size="10" stroke="#000" stroke-width="0.16" y="290.2">1</tspan><tspan x="83.81" textLength="4.92" lengthAdjust="spacingAndGlyphs" font-size="10" stroke="#000" stroke-width="0.16" y="290.2">1</tspan></text>
<text xml:space="preserve" transform="matrix(1.13,0,0.001,1,-0.34,0)" font-size="15.7" stroke="#fff" stroke-width="0.17"><tspan x="82.48" y="340">0</tspan></text>
</g>
</svg>
</body></html>
